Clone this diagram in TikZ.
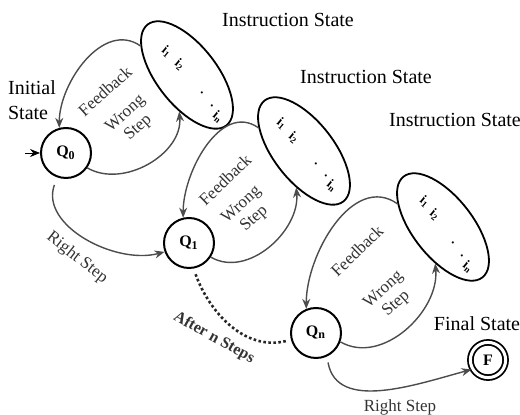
\documentclass[tikz,border=0pt]{standalone}
\usepackage{fontspec}
\setmainfont{Liberation Serif}
\usetikzlibrary{automata, arrows.meta, shapes.geometric}

\begin{document}
\begin{tikzpicture}[
    x=0.5pt, y=-0.5pt,
    ->, >={Stealth[length=5pt, width=4pt]},
    every state/.style={line width=1pt, minimum size=25pt, inner sep=0pt, font=\bfseries\fontsize{8}{9}\selectfont},
    initial text={}, initial distance=7.5pt,
    instr/.style={ellipse, draw, line width=0.9pt, minimum width=64pt, minimum height=30pt, rotate=-52},
    ilabel/.style={font=\bfseries\fontsize{6.5}{7}\selectfont, rotate=-40, inner sep=0pt},
    title/.style={font=\fontsize{10}{12.5}\selectfont, align=left},
    lbl/.style={font=\fontsize{8.5}{9.5}\selectfont, text=black!80, align=center, inner sep=0pt},
    link/.style={draw=black!70, line width=0.7pt}
]
    \useasboundingbox (0,0) rectangle (520,415);

    % States
    \node[state, initial] (q0) at (66,153) {Q\textsubscript{0}};
    \node[state] (q1) at (189,243) {Q\textsubscript{1}};
    \node[state] (qn) at (316,333) {Q\textsubscript{n}};
    \node[state, accepting, line width=0.9pt, double distance=1.5pt, minimum size=17.6pt] (f) at (488,360) {F};

    % Instruction states
    \node[instr] (e1) at (187,75) {};
    \node[instr] (e2) at (304,151) {};
    \node[instr] (e3) at (443,227) {};

    % Instructions i1 ... in
    \node[ilabel] (e1i1) at (167,52) {i\textsubscript{1}};
    \node[ilabel] (e1i2) at (180,65) {i\textsubscript{2}};
    \node[ilabel] (e1d1) at (202,93) {.};
    \node[ilabel] (e1d2) at (212,106) {.};
    \node[ilabel] (e1in) at (218,117) {i\textsubscript{n}};

    \node[ilabel] (e2i1) at (282,124) {i\textsubscript{1}};
    \node[ilabel] (e2i2) at (294,138) {i\textsubscript{2}};
    \node[ilabel] (e2d1) at (316,164) {.};
    \node[ilabel] (e2d2) at (326,176) {.};
    \node[ilabel] (e2in) at (332,186) {i\textsubscript{n}};

    \node[ilabel] (e3i1) at (425,202) {i\textsubscript{1}};
    \node[ilabel] (e3i2) at (435,215) {i\textsubscript{2}};
    \node[ilabel] (e3d1) at (453,243) {.};
    \node[ilabel] (e3d2) at (462,256) {.};
    \node[ilabel] (e3in) at (468,267) {i\textsubscript{n}};

    % Titles
    \node[title] (init) at (32,100) {Initial\\State};
    \node[title] (t1) at (288,20) {Instruction State};
    \node[title] (t2) at (366,77) {Instruction State};
    \node[title] (t3) at (455,120) {Instruction State};
    \node[title] (fin) at (477,324) {Final State};

    % Edge labels
    \node[lbl, rotate=42] (fb1) at (105,91) {Feedback};
    \node[lbl, rotate=42] (ws1) at (132,121) {Wrong\\Step};
    \node[lbl, rotate=44] (fb2) at (225,180) {Feedback};
    \node[lbl, rotate=42] (ws2) at (248,212) {Wrong\\Step};
    \node[lbl, rotate=44] (fb3) at (357,251) {Feedback};
    \node[lbl, rotate=42] (ws3) at (390,297) {Wrong\\Step};
    \node[lbl, rotate=-38] (rs1) at (77,258) {Right Step};
    \node[lbl, rotate=-29, font=\bfseries\fontsize{8}{9}\selectfont] (ans) at (214,338) {After n Steps};
    \node[lbl] (rs2) at (400,407) {Right Step};

    % Transitions
    \path (e1.200) edge[link, out=145, in=90] (q0.105);
    \path (q0.-35) edge[link, out=-30, in=-85] (e1.310);

    \path (e2.205) edge[link, out=145, in=90] (q1.103);
    \path (q1.-33) edge[link, out=-30, in=-85] (e2.310);

    \path (e3.205) edge[link, out=145, in=90] (qn.112);
    \path (qn.-20) edge[link, out=-30, in=-85] (e3.310);

    \path (q0.250) edge[link, out=250, in=195, shorten <=4pt] (q1.200);
    \path (q1.-80) edge[-, draw=black!85, line width=1.3pt, dash pattern=on 1.3pt off 1.2pt, out=-70, in=195, shorten <=3pt, shorten >=2pt] (qn.195);
    \path (qn.-65) edge[link, out=-80, in=195, shorten <=3pt] (f.210);

\end{tikzpicture}
\end{document}
